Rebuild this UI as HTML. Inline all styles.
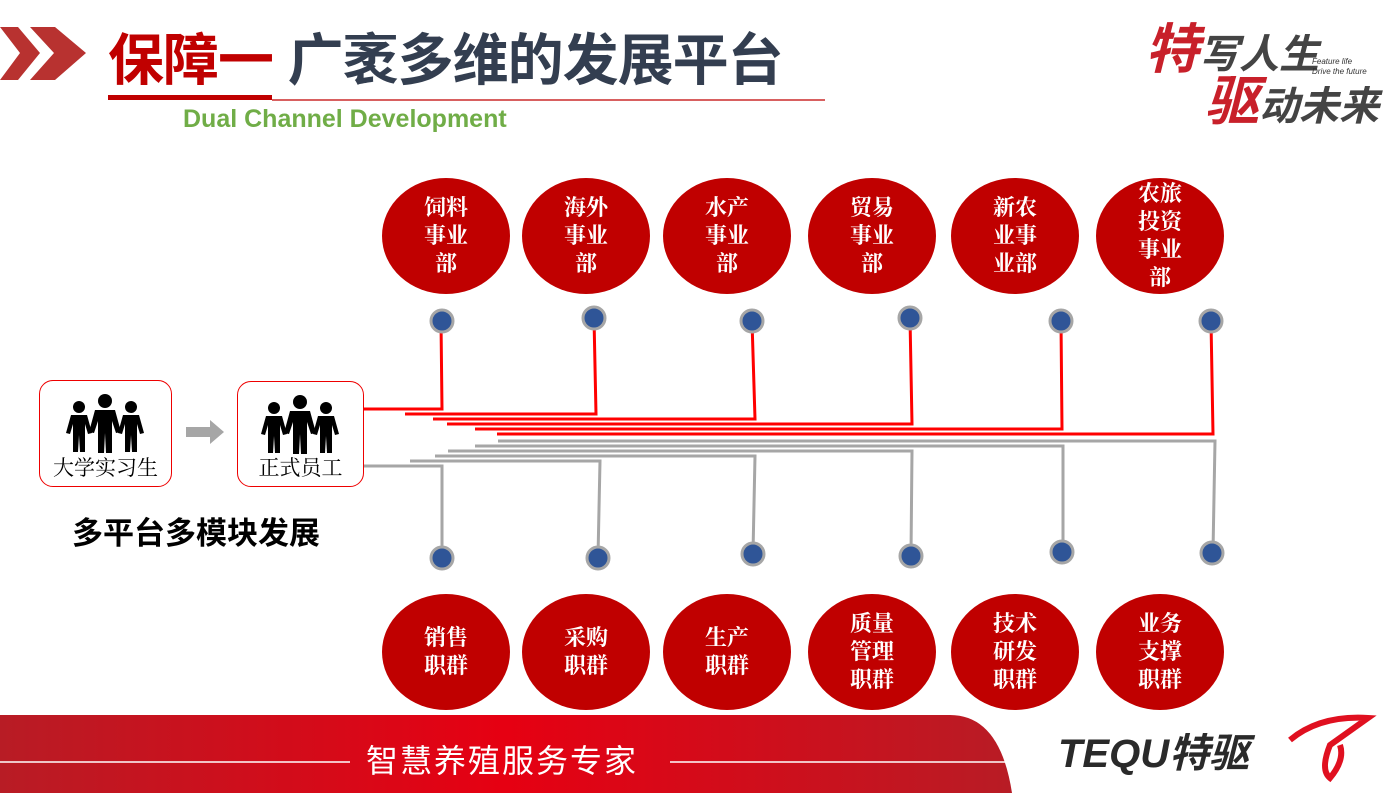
<!DOCTYPE html>
<html><head><meta charset="utf-8"><style>
body{margin:0;width:1396px;height:793px;overflow:hidden;background:#fff;position:relative;font-family:"Liberation Sans","Noto Sans CJK SC",sans-serif}
.a{position:absolute}
.c{position:absolute;width:128px;height:116px;border-radius:50%;background:#c00000;color:#fff;font-family:"Liberation Serif","Noto Serif CJK SC",serif;font-weight:bold;font-size:22px;line-height:28px;display:flex;align-items:center;justify-content:center;text-align:center}
.box{position:absolute;border:1.5px solid #e00;border-radius:14px;background:#fff}
.box span{position:absolute;bottom:4px;left:0;right:0;text-align:center;font-family:"Liberation Serif","Noto Serif CJK SC",serif;font-size:21px}
</style></head><body>
<svg class="a" style="left:0;top:0" width="1396" height="793">
<polygon points="0,27 18,27 40,53 18,80 0,80 20,53" fill="#b83230"/>
<polygon points="30,27 55,27 86,53 55,80 30,80 54,53" fill="#b83230"/>
<rect x="108" y="95" width="164" height="5" fill="#c00000"/>
<line x1="272" y1="100" x2="825" y2="100" stroke="#c00000" stroke-width="1.2"/>
<g fill="none" stroke="#f00" stroke-width="3">
<polyline points="363,409 442,409 441,321"/>
<polyline points="405,414 596,414 594,318"/>
<polyline points="433,419 755,419 752,321"/>
<polyline points="447,424 912,424 910,318"/>
<polyline points="475,429 1062,429 1061,321"/>
<polyline points="497,434 1213,434 1211,321"/>
</g>
<g fill="none" stroke="#a6a6a6" stroke-width="3">
<polyline points="498,441 1215,441 1213,552"/>
<polyline points="475,446 1063,446 1063,552"/>
<polyline points="448,451 912,451 911,555"/>
<polyline points="435,456 755,456 753,553"/>
<polyline points="410,461 600,461 598,557"/>
<polyline points="363,466 442,466 442,557"/>
</g>
<g fill="#2f5597" stroke="#a6a6a6" stroke-width="3">
<ellipse cx="442" cy="321" rx="11" ry="11"/><ellipse cx="594" cy="318" rx="11" ry="11"/><ellipse cx="752" cy="321" rx="11" ry="11"/><ellipse cx="910" cy="318" rx="11" ry="11"/><ellipse cx="1061" cy="321" rx="11" ry="11"/><ellipse cx="1211" cy="321" rx="11" ry="11"/>
<ellipse cx="442" cy="558" rx="11" ry="11"/><ellipse cx="598" cy="558" rx="11" ry="11"/><ellipse cx="753" cy="554" rx="11" ry="11"/><ellipse cx="911" cy="556" rx="11" ry="11"/><ellipse cx="1062" cy="552" rx="11" ry="11"/><ellipse cx="1212" cy="553" rx="11" ry="11"/>
</g>
<polygon points="186,427 210,427 210,420 224,432 210,444 210,437 186,437" fill="#a6a6a6"/>
<defs><linearGradient id="g" x1="0" x2="1"><stop offset="0" stop-color="#b81c25"/><stop offset=".5" stop-color="#e60012"/><stop offset="1" stop-color="#b81c25"/></linearGradient></defs>
<path d="M0,715 L950,715 Q1000,715 1012,793 L0,793 Z" fill="url(#g)"/>
<line x1="0" y1="762" x2="350" y2="762" stroke="#fff" stroke-width="1.5"/>
<line x1="670" y1="762" x2="1010" y2="762" stroke="#fff" stroke-width="1.5"/>
<path d="M1290,740 Q1320,715 1368,718 L1330,745 Q1320,770 1330,778 Q1345,760 1340,745" fill="none" stroke="#e01020" stroke-width="6"/>
</svg>
<div class="a" style="left:108px;top:26px;font-size:56px;font-weight:bold;color:#c00000;line-height:70px;letter-spacing:-1px">保障一 <span style="color:#333e50">广袤多维的发展平台</span></div>
<div class="a" style="left:183px;top:104px;font-size:25px;color:#70ad47;line-height:30px;font-weight:bold">Dual Channel Development</div>
<div class="a" style="left:1145px;top:20px;font-size:54px;color:#c8202a;font-style:italic;font-weight:bold;line-height:60px">特<span style="color:#444;font-size:40px">写人生</span></div>
<div class="a" style="left:1205px;top:72px;font-size:54px;color:#c8202a;font-style:italic;font-weight:bold;line-height:60px">驱<span style="color:#444;font-size:40px">动未来</span></div>
<div class="a" style="left:1312px;top:57px;font-size:8px;font-style:italic;color:#333;line-height:10px">Feature life<br>Drive the future</div>
<div class="c" style="left:382px;top:178px">饲料<br>事业<br>部</div>
<div class="c" style="left:522px;top:178px">海外<br>事业<br>部</div>
<div class="c" style="left:663px;top:178px">水产<br>事业<br>部</div>
<div class="c" style="left:808px;top:178px">贸易<br>事业<br>部</div>
<div class="c" style="left:951px;top:178px">新农<br>业事<br>业部</div>
<div class="c" style="left:1096px;top:178px">农旅<br>投资<br>事业<br>部</div>
<div class="c" style="left:382px;top:594px">销售<br>职群</div>
<div class="c" style="left:522px;top:594px">采购<br>职群</div>
<div class="c" style="left:663px;top:594px">生产<br>职群</div>
<div class="c" style="left:808px;top:594px">质量<br>管理<br>职群</div>
<div class="c" style="left:951px;top:594px">技术<br>研发<br>职群</div>
<div class="c" style="left:1096px;top:594px">业务<br>支撑<br>职群</div>
<div class="box" style="left:39px;top:380px;width:131px;height:105px"><svg class="a" style="left:22px;top:12px" width="86" height="60"><g fill="#000"><circle cx="43" cy="8" r="7"/><path d="M33,17h20l6,22-5,1-4-12 0,32h-6l-1-20-1,20h-6l0-32-4,12-5-1z"/><circle cx="17" cy="14" r="6"/><path d="M9,22h16l5,18-4,1-3-10 0,28h-5l-1-17-1,17h-5l0-28-3,10-4-1z"/><circle cx="69" cy="14" r="6"/><path d="M61,22h16l5,18-4,1-3-10 0,28h-5l-1-17-1,17h-5l0-28-3,10-4-1z"/></g></svg><span>大学实习生</span></div>
<div class="box" style="left:237px;top:381px;width:125px;height:104px"><svg class="a" style="left:19px;top:12px" width="86" height="60"><g fill="#000"><circle cx="43" cy="8" r="7"/><path d="M33,17h20l6,22-5,1-4-12 0,32h-6l-1-20-1,20h-6l0-32-4,12-5-1z"/><circle cx="17" cy="14" r="6"/><path d="M9,22h16l5,18-4,1-3-10 0,28h-5l-1-17-1,17h-5l0-28-3,10-4-1z"/><circle cx="69" cy="14" r="6"/><path d="M61,22h16l5,18-4,1-3-10 0,28h-5l-1-17-1,17h-5l0-28-3,10-4-1z"/></g></svg><span>正式员工</span></div>
<div class="a" style="left:72px;top:514px;font-size:31px;font-weight:bold;color:#000;line-height:40px">多平台多模块发展</div>
<div class="a" style="left:366px;top:740px;font-size:32px;color:#fff;line-height:42px;letter-spacing:2px">智慧养殖服务专家</div>
<div class="a" style="left:1058px;top:730px;font-size:40px;font-weight:bold;font-style:italic;color:#2a2a2a;line-height:48px">TEQU特驱</div>
</body></html>
